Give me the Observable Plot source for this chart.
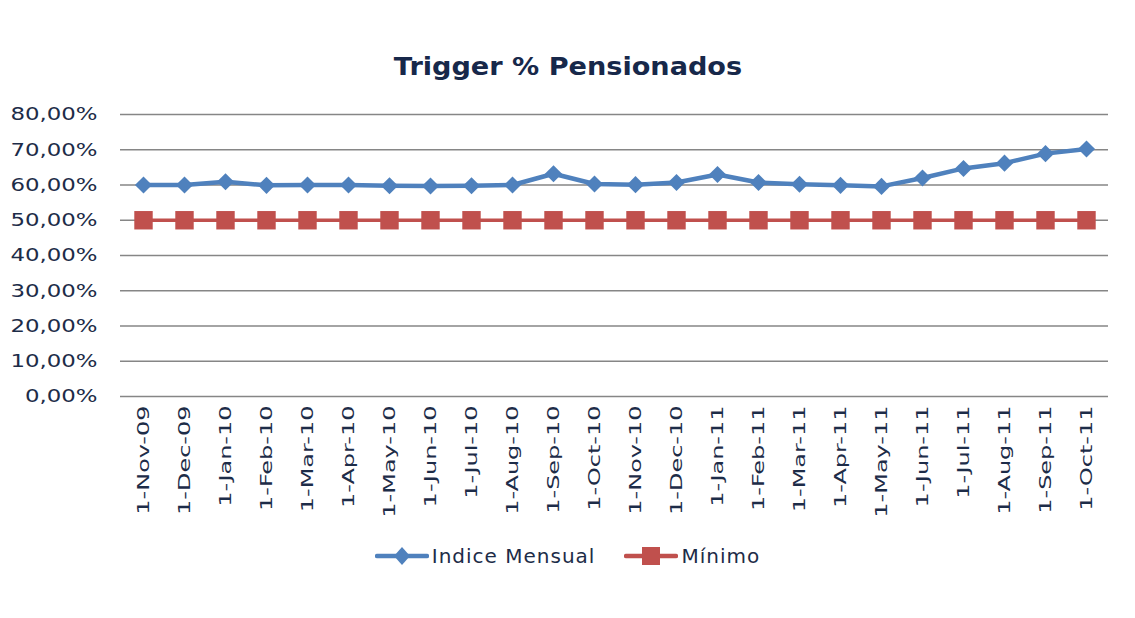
<!DOCTYPE html>
<html>
<head>
<meta charset="utf-8">
<script src="https://cdn.jsdelivr.net/npm/d3@7"></script>
<script src="https://cdn.jsdelivr.net/npm/@observablehq/plot@0.6"></script>
<style>
  html, body { margin: 0; padding: 0; background: #fff; }
  body { width: 1135px; height: 618px; overflow: hidden; font-family: "DejaVu Sans", Verdana, sans-serif; color: #1d2c48; }
  #title { height: 100px; position: relative; }
  #title span { position: absolute; left: 50%; top: 53px; transform: translateX(-50%) scaleX(1.13); font-weight: bold; font-size: 24px; white-space: nowrap; color: #17284a; }
  #chart svg { display: block; }
  #legend { display: flex; justify-content: center; align-items: center; height: 40px; margin-top: 16px; font-size: 20px; letter-spacing: 1px; }
  .item { display: flex; align-items: center; }
  .item + .item { margin-left: 29px; }
  .item svg { display: block; margin-right: 3px; }
</style>
</head>
<body>
<div id="title"><span>Trigger % Pensionados</span></div>
<div id="chart"></div>
<div id="legend"></div>
<script>
const dates = ["1-Nov-09","1-Dec-09","1-Jan-10","1-Feb-10","1-Mar-10","1-Apr-10","1-May-10","1-Jun-10","1-Jul-10","1-Aug-10","1-Sep-10","1-Oct-10","1-Nov-10","1-Dec-10","1-Jan-11","1-Feb-11","1-Mar-11","1-Apr-11","1-May-11","1-Jun-11","1-Jul-11","1-Aug-11","1-Sep-11","1-Oct-11"];
const indiceMensual = [0.600,0.600,0.609,0.599,0.600,0.600,0.598,0.597,0.598,0.600,0.632,0.603,0.601,0.607,0.630,0.607,0.602,0.599,0.596,0.620,0.647,0.662,0.689,0.702];
const minimo = [0.50,0.50,0.50,0.50,0.50,0.50,0.50,0.50,0.50,0.50,0.50,0.50,0.50,0.50,0.50,0.50,0.50,0.50,0.50,0.50,0.50,0.50,0.50,0.50];
const yTicks = [0,0.1,0.2,0.3,0.4,0.5,0.6,0.7,0.8];
const seriesNames = ["Indice Mensual","Mínimo"];
const colors = ["#4f81bd","#c0504d"];

const indData = dates.map((d,i)=>({date:d, v:indiceMensual[i]}));
const minData = dates.map((d,i)=>({date:d, v:minimo[i]}));
const fmt = d => (d*100).toFixed(2).replace(".", ",") + "%";

const svg = Plot.plot({
  width: 1135, height: 420,
  marginLeft: 120, marginRight: 27, marginTop: 14, marginBottom: 124,
  style: { fontFamily: "DejaVu Sans, Verdana, sans-serif", color: "#1d2c48", background: "white", overflow: "visible" },
  x: { type: "point", domain: dates, padding: 0.5, label: null },
  y: { domain: [0, 0.8], label: null },
  marks: [
    Plot.gridY(yTicks, { stroke: "#868686", strokeOpacity: 1, strokeWidth: 1.3 }),
    Plot.axisY(yTicks, { tickFormat: fmt, tickSize: 0, tickPadding: 23, fontSize: 18 }),
    Plot.axisX({ tickRotate: -90, tickSize: 0, tickPadding: 9, fontSize: 16 }),
    Plot.line(minData, { x: "date", y: "v", stroke: colors[1], strokeWidth: 3.5 }),
    Plot.dot(minData, { x: "date", y: "v", symbol: "square", r: 10.4, fill: colors[1] }),
    Plot.line(indData, { x: "date", y: "v", stroke: colors[0], strokeWidth: 4.5 }),
    Plot.dot(indData, { x: "date", y: "v", symbol: "diamond2", r: 7.7, fill: colors[0] })
  ]
});
// stretch tick labels along their reading direction to match the reference's wide lettering
d3.select(svg).selectAll('[aria-label="x-axis tick label"] text').each(function(){
  const t = this.getAttribute("transform") || "";
  this.setAttribute("transform", t + " scale(1.5,1)");
});
d3.select(svg).selectAll('[aria-label="y-axis tick label"] text').each(function(){
  const t = this.getAttribute("transform") || "";
  this.setAttribute("transform", t + " scale(1.27,1)");
});
document.getElementById("chart").appendChild(svg);

const legend = document.getElementById("legend");
seriesNames.forEach((name, i) => {
  const item = document.createElement("div");
  item.className = "item";
  const marker = i === 0
    ? '<path d="M27,1 L35,10 L27,19 L19,10 Z" fill="' + colors[0] + '"/>'
    : '<rect x="18" y="1" width="18" height="18" fill="' + colors[1] + '"/>';
  item.innerHTML = '<svg width="54" height="20"><line x1="2" x2="52" y1="10" y2="10" stroke="' + colors[i] + '" stroke-width="4.5" stroke-linecap="round"/>' + marker + '</svg><span>' + name + '</span>';
  legend.appendChild(item);
});
</script>
</body>
</html>
